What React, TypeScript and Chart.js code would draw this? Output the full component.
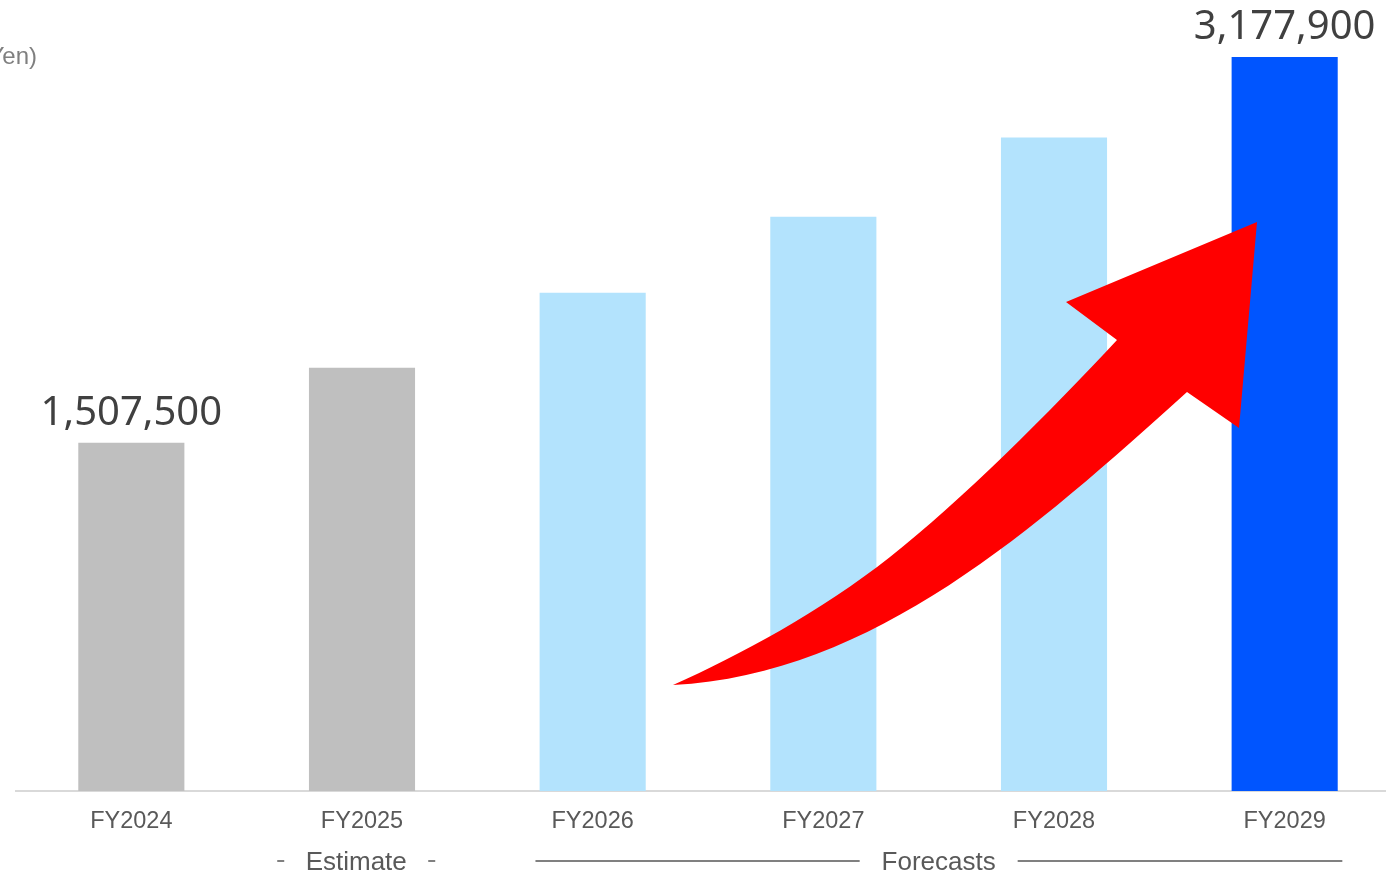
import React, { useEffect, useRef } from "react";
import { Chart, registerables } from "chart.js";

Chart.register(...registerables);

const categories = ["FY2024", "FY2025", "FY2026", "FY2027", "FY2028", "FY2029"];
const values = [1507500, 1832000, 2157000, 2486500, 2829000, 3177900];
const barColors = ["#BFBFBF", "#BFBFBF", "#B3E3FD", "#B3E3FD", "#B3E3FD", "#0055FF"];
const labelledIndexes = [0, 5];
const unitLabel = "(Yen)";
const groupLabels = ["Estimate", "Forecasts"];

const OX = 40; // canvas offset to the left of the page
const CW = 1480;
const CH = 876;

const decorPlugin = {
  id: "decor",
  afterDatasetsDraw(chart: any) {
    const ctx = chart.ctx;
    const meta = chart.getDatasetMeta(0);
    const x = chart.scales.x;
    ctx.save();

    // red arrow (decoration)
    const P = (px: number, py: number) => [px + OX, py];
    ctx.beginPath();
    const s = P(673, 685);
    ctx.moveTo(s[0], s[1]);
    // upper (inner) edge: two cubic segments
    const u1 = P(740, 655), u2 = P(820, 612), um = P(890, 557);
    ctx.bezierCurveTo(u1[0], u1[1], u2[0], u2[1], um[0], um[1]);
    const u3 = P(960, 502), u4 = P(1050, 412), ue = P(1117, 340);
    ctx.bezierCurveTo(u3[0], u3[1], u4[0], u4[1], ue[0], ue[1]);
    const head = [P(1066, 302), P(1257, 222), P(1239, 428), P(1187, 392)];
    head.forEach((p) => ctx.lineTo(p[0], p[1]));
    // lower (outer) edge
    const c1 = P(1037, 527);
    const c2 = P(873, 675);
    ctx.bezierCurveTo(c1[0], c1[1], c2[0], c2[1], s[0], s[1]);
    ctx.closePath();
    ctx.fillStyle = "#FF0000";
    ctx.fill();

    // value labels
    ctx.fillStyle = "#404040";
    ctx.font = '40px "Noto Sans", "DejaVu Sans", sans-serif';
    ctx.textAlign = "center";
    ctx.textBaseline = "alphabetic";
    labelledIndexes.forEach((i) => {
      const el = meta.data[i];
      ctx.fillText(values[i].toLocaleString("en-US"), el.x, el.y - 18);
    });

    // unit label
    ctx.fillStyle = "#7F7F7F";
    ctx.font = '24px "Liberation Sans", Arial, sans-serif';
    ctx.textAlign = "right";
    ctx.textBaseline = "middle";
    ctx.fillText(unitLabel, 37 + OX, 57);

    // group labels
    const gy = 863;
    ctx.font = '26px "Liberation Sans", Arial, sans-serif';
    ctx.fillStyle = "#595959";
    ctx.textAlign = "center";
    const ex = x.getPixelForValue(0.975);
    ctx.fillText(groupLabels[0], ex, gy);
    const fx = x.getPixelForValue(3.5);
    ctx.fillText(groupLabels[1], fx, gy);

    ctx.strokeStyle = "#808080";
    ctx.lineWidth = 2;
    ctx.beginPath();
    ctx.moveTo(ex - 79, gy - 2);
    ctx.lineTo(ex - 72, gy - 2);
    ctx.moveTo(ex + 72, gy - 2);
    ctx.lineTo(ex + 79, gy - 2);
    const l1 = x.getPixelForValue(1.752);
    const l2 = x.getPixelForValue(5.25);
    ctx.moveTo(l1, gy - 2);
    ctx.lineTo(fx - 79, gy - 2);
    ctx.moveTo(fx + 79, gy - 2);
    ctx.lineTo(l2, gy - 2);
    ctx.stroke();

    ctx.restore();
  },
};

export default function App() {
  const ref = useRef<HTMLCanvasElement>(null);
  useEffect(() => {
    const chart = new Chart(ref.current!, {
      type: "bar",
      data: {
        labels: categories,
        datasets: [
          {
            data: values,
            backgroundColor: barColors,
            borderWidth: 0,
            barPercentage: 0.46,
            categoryPercentage: 1,
          },
        ],
      },
      options: {
        animation: false,
        responsive: false,
        devicePixelRatio: 1,
        layout: { padding: { top: 57, left: 56, right: 40, bottom: 0 } },
        plugins: { legend: { display: false }, tooltip: { enabled: false } },
        scales: {
          y: { display: false, min: 0, max: 3177900 },
          x: {
            afterFit: (s: any) => {
              s.height = CH - 791;
            },
            grid: { display: false, drawTicks: false },
            border: { display: true, color: "#D9D9D9", width: 2 },
            ticks: {
              color: "#595959",
              font: { family: '"Liberation Sans", Arial, sans-serif', size: 23.5 },
              padding: 16,
              maxRotation: 0,
            },
          },
        },
      },
      plugins: [decorPlugin],
    });
    return () => chart.destroy();
  }, []);
  return (
    <div
      style={{
        position: "fixed",
        left: 0,
        top: 0,
        width: 1386,
        height: 876,
        overflow: "hidden",
        background: "#fff",
      }}
    >
      <canvas
        ref={ref}
        width={CW}
        height={CH}
        style={{ position: "absolute", left: -OX, top: 0, width: CW, height: CH }}
      />
    </div>
  );
}
